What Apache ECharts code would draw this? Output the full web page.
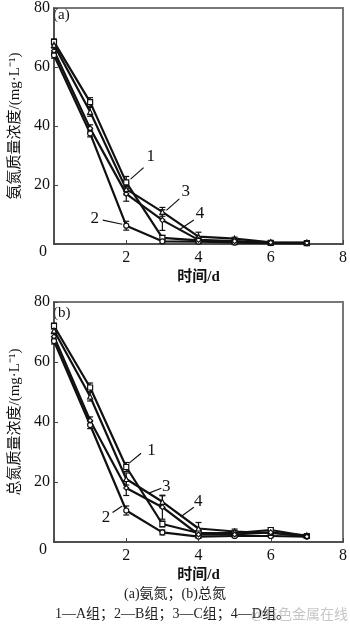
<!DOCTYPE html>
<html>
<head>
<meta charset="utf-8">
<script src="https://cdn.jsdelivr.net/npm/echarts@6/dist/echarts.min.js"></script>
<style>
html,body{margin:0;padding:0;background:#fff;}
#chart{width:350px;height:627px;}
</style>
</head>
<body>
<div id="chart"></div>
<script>
// Sampling days
const days = [0, 1, 2, 3, 4, 5, 6, 7];
const xTicks = [0, 2, 4, 6, 8];
const yTicks = [0, 20, 40, 60, 80];
const groupNames = ['A组', 'B组', 'C组', 'D组'];

// (a) ammonia nitrogen, mg/L
const nh4A = [68.5, 48.1, 20.9, 2.1, 1.2, 0.6, 0.4, 0.3];
const nh4B = [64.0, 37.5, 6.2, 0.9, 0.8, 0.5, 0.3, 0.3];
const nh4C = [67.5, 44.8, 18.6, 10.9, 2.5, 1.8, 0.6, 0.5];
const nh4D = [65.5, 39.2, 17.0, 8.1, 1.4, 1.0, 0.5, 0.4];
// (a) error half-widths
const nh4ErrA = [1.0, 1.5, 2.0, 0.8, 0.5, 0.3, 0.3, 0.3];
const nh4ErrB = [1.0, 1.2, 1.5, 0.6, 0.5, 0.3, 0.3, 0.3];
const nh4ErrC = [1.0, 1.5, 2.0, 1.5, 1.5, 0.5, 0.5, 0.4];
const nh4ErrD = [1.0, 1.2, 2.5, 3.5, 1.0, 0.4, 0.4, 0.3];

// (b) total nitrogen, mg/L
const tnA = [72.0, 51.5, 25.0, 6.0, 3.0, 3.0, 4.0, 2.0];
const tnB = [67.0, 39.0, 10.5, 3.2, 1.8, 2.0, 2.0, 1.8];
const tnC = [70.5, 48.5, 21.0, 13.4, 4.5, 3.5, 3.0, 2.2];
const tnD = [68.5, 40.5, 18.0, 11.6, 2.5, 2.5, 3.2, 1.8];
// (b) error half-widths
const tnErrA = [1.0, 1.5, 1.5, 1.0, 0.8, 0.5, 0.8, 0.5];
const tnErrB = [1.0, 1.2, 1.5, 0.8, 0.6, 0.5, 0.5, 0.4];
const tnErrC = [1.0, 1.5, 2.0, 2.0, 2.0, 0.8, 0.8, 0.5];
const tnErrD = [1.0, 1.2, 2.5, 4.0, 1.0, 0.6, 0.6, 0.4];

// Curve call-outs (data coordinates): label, text position, leader start, leader end
const calloutsA = [
  ['1', [2.68, 29.8], [2.12, 22.0], [2.48, 25.9]],
  ['2', [1.13, 8.7], [1.35, 8.1], [1.89, 6.7]],
  ['3', [3.65, 17.9], [3.11, 11.4], [3.47, 15.3]],
  ['4', [4.04, 10.3], [3.47, 4.8], [3.87, 8.1]]
];
const calloutsB = [
  ['1', [2.70, 30.4], [2.07, 26.2], [2.41, 29.6]],
  ['2', [1.44, 8.2], [1.62, 9.8], [1.89, 12.0]],
  ['3', [3.11, 18.4], [2.61, 16.2], [2.97, 17.9]],
  ['4', [3.99, 13.4], [3.51, 8.4], [3.87, 11.6]]
];

const ink = '#111';
const serif = '"Liberation Serif", "Times New Roman", serif';
const cjk = '"Liberation Serif", "Noto Sans CJK SC", serif';
const symbols = ['rect', 'circle', 'triangle', 'diamond'];

const chart = echarts.init(document.getElementById('chart'));

function errRender(params, api) {
  const x = api.value(0), lo = api.value(1), hi = api.value(2);
  const a = api.coord([x, lo]), b = api.coord([x, hi]);
  const w = 3;
  const st = { stroke: ink, lineWidth: 1.2 };
  return {
    type: 'group',
    children: [
      { type: 'line', shape: { x1: a[0], y1: a[1], x2: b[0], y2: b[1] }, style: st },
      { type: 'line', shape: { x1: a[0] - w, y1: a[1], x2: a[0] + w, y2: a[1] }, style: st },
      { type: 'line', shape: { x1: b[0] - w, y1: b[1], x2: b[0] + w, y2: b[1] }, style: st }
    ]
  };
}

function panelSeries(idx, values, errors, callouts) {
  const out = [];
  values.forEach((vals, k) => {
    out.push({
      type: 'custom',
      xAxisIndex: idx, yAxisIndex: idx,
      renderItem: errRender,
      data: days.map((d, i) => [d, vals[i] - errors[k][i], vals[i] + errors[k][i]]),
      z: 3,
      silent: true
    });
    const s = {
      type: 'line',
      name: groupNames[k],
      xAxisIndex: idx, yAxisIndex: idx,
      data: days.map((d, i) => [d, vals[i]]),
      symbol: symbols[k],
      symbolSize: 5,
      showAllSymbol: true,
      lineStyle: { color: ink, width: 2.2 },
      itemStyle: { color: '#fff', borderColor: ink, borderWidth: 1.2 },
      z: 4,
      silent: true
    };
    if (k === 0) {
      s.markLine = {
        silent: true,
        symbol: 'none',
        label: { show: false },
        lineStyle: { color: ink, width: 1.2, type: 'solid' },
        data: callouts.map(c => [{ coord: c[2] }, { coord: c[3] }])
      };
      s.markPoint = {
        silent: true,
        symbol: 'circle',
        symbolSize: 0,
        label: {
          show: true,
          color: ink,
          fontFamily: serif,
          fontSize: 17,
          formatter: p => p.name
        },
        data: callouts.map(c => ({ name: c[0], coord: c[1] }))
      };
    }
    out.push(s);
  });
  return out;
}

function xAxisDef(idx) {
  return {
    type: 'value', gridIndex: idx,
    min: xTicks[0], max: xTicks[xTicks.length - 1], interval: 2,
    name: '时间/d', nameLocation: 'middle', nameGap: 26,
    nameTextStyle: { fontFamily: cjk, fontSize: 15, fontWeight: 'bold', color: ink },
    axisLine: { show: true, lineStyle: { color: '#444', width: 1.5 } },
    axisTick: { show: true, inside: true, length: 4, lineStyle: { color: '#444' } },
    axisLabel: {
      fontFamily: serif, fontSize: 16, color: ink, margin: 6,
      formatter: v => (v === 0 ? '' : String(v))
    },
    splitLine: { show: false }
  };
}

function yAxisDef(idx, name) {
  return {
    type: 'value', gridIndex: idx,
    min: yTicks[0], max: yTicks[yTicks.length - 1], interval: 20,
    name: name, nameLocation: 'middle', nameGap: 31,
    nameTextStyle: { fontFamily: cjk, fontSize: 15, color: ink },
    axisLine: { show: true, lineStyle: { color: '#444', width: 1.5 } },
    axisTick: { show: true, inside: true, length: 4, lineStyle: { color: '#444' } },
    axisLabel: {
      fontFamily: serif, fontSize: 16, color: ink, margin: 4,
      formatter: v => (v === 0 ? '' : String(v))
    },
    splitLine: { show: false }
  };
}

const option = {
  animation: false,
  backgroundColor: '#fff',
  grid: [
    { left: 50, right: 3, top: 4, height: 240, show: true, borderColor: '#777', borderWidth: 2, backgroundColor: 'transparent' },
    { left: 50, right: 3, top: 302, height: 240, show: true, borderColor: '#777', borderWidth: 2, backgroundColor: 'transparent' }
  ],
  xAxis: [xAxisDef(0), xAxisDef(1)],
  yAxis: [yAxisDef(0, '氨氮质量浓度/(mg·L⁻¹)'), yAxisDef(1, '总氮质量浓度/(mg·L⁻¹)')],
  series: [
    ...panelSeries(0, [nh4A, nh4B, nh4C, nh4D], [nh4ErrA, nh4ErrB, nh4ErrC, nh4ErrD], calloutsA),
    ...panelSeries(1, [tnA, tnB, tnC, tnD], [tnErrA, tnErrB, tnErrC, tnErrD], calloutsB)
  ],
  graphic: [
    { type: 'text', left: 53, top: 8, style: { text: '(a)', font: '15px ' + serif, fill: ink } },
    { type: 'text', left: 53, top: 306, style: { text: '(b)', font: '15px ' + serif, fill: ink } },
    { type: 'text', x: 43, y: 252, style: { text: '0', font: '16px ' + serif, fill: ink, textAlign: 'center', textVerticalAlign: 'middle' } },
    { type: 'text', x: 43, y: 550, style: { text: '0', font: '16px ' + serif, fill: ink, textAlign: 'center', textVerticalAlign: 'middle' } },
    { type: 'text', x: 175, y: 594, style: { text: '(a)氨氮；(b)总氮', font: '14px ' + cjk, fill: '#222', textAlign: 'center', textVerticalAlign: 'middle' } },
    { type: 'text', x: 55, y: 614, style: { text: '1—A组；2—B组；3—C组；4—D组。', font: '14px ' + cjk, fill: '#222', textAlign: 'left', textVerticalAlign: 'middle' } },
    { type: 'text', x: 348, y: 614, style: { text: '@有色金属在线', font: '14px "Noto Sans CJK SC", sans-serif', fill: 'rgba(150,150,150,0.55)', textAlign: 'right', textVerticalAlign: 'middle' } }
  ]
};

chart.setOption(option);
</script>
</body>
</html>
